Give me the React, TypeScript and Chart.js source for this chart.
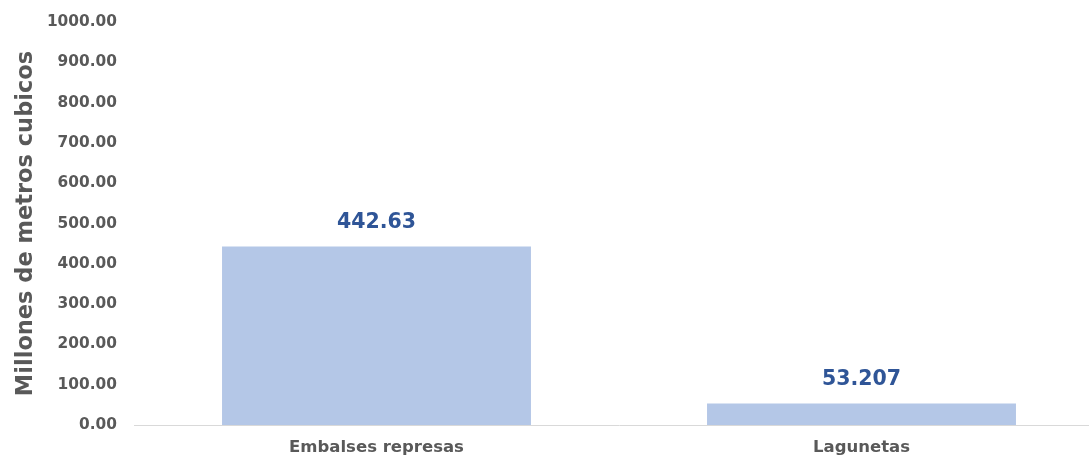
import React, { useEffect, useRef } from "react";
import { Chart, registerables } from "chart.js";

Chart.register(...registerables);

const categories = ["Embalses represas", "Lagunetas"];
const values = [442.63, 53.207];
const valueLabels = ["442.63", "53.207"];
const yTicks = [0, 100, 200, 300, 400, 500, 600, 700, 800, 900, 1000];

const FONT = "'DejaVu Sans', sans-serif";

const valueLabelPlugin = {
  id: "valueLabels",
  afterDatasetsDraw(chart: any) {
    const ctx = chart.ctx;
    const meta = chart.getDatasetMeta(0);
    ctx.save();
    ctx.font = `bold 20.5px ${FONT}`;
    ctx.fillStyle = "#2F5597";
    ctx.textAlign = "center";
    ctx.textBaseline = "middle";
    meta.data.forEach((bar: any, i: number) => {
      ctx.fillText(valueLabels[i], bar.x, bar.y - 24);
    });
    ctx.restore();
  },
};

export default function App() {
  const ref = useRef<HTMLCanvasElement>(null);
  useEffect(() => {
    document.body.style.margin = "0";
    const chart = new Chart(ref.current!, {
      type: "bar",
      data: {
        labels: categories,
        datasets: [
          {
            data: values,
            backgroundColor: "#B4C7E7",
            categoryPercentage: 1,
            barPercentage: 0.637,
          },
        ],
      },
      options: {
        animation: false,
        responsive: false,
        layout: { padding: { top: 22, bottom: 8, left: 0, right: 0 } },
        plugins: { legend: { display: false }, tooltip: { enabled: false } },
        scales: {
          x: {
            grid: { display: false, drawTicks: false },
            border: { display: true, color: "#D9D9D9", width: 1 },
            ticks: {
              color: "#595959",
              font: { family: FONT, size: 16.5, weight: "bold" },
              padding: 13,
            },
            afterFit(scale: any) {
              scale.height = 32;
              scale.paddingLeft = 0;
              scale.paddingRight = 0;
            },
          },
          y: {
            min: 0,
            max: 1000,
            afterBuildTicks(scale: any) {
              scale.ticks = yTicks.map((v) => ({ value: v }));
            },
            grid: { display: false, drawTicks: false },
            border: { display: false },
            ticks: {
              color: "#595959",
              font: { family: FONT, size: 15.4, weight: "bold" },
              padding: 17,
              callback: (v: any) => Number(v).toFixed(2),
            },
            title: {
              display: true,
              text: "Millones de metros cubicos",
              color: "#595959",
              font: { family: FONT, size: 22.5, weight: "bold" },
              padding: { top: 13, bottom: 0 },
            },
            afterFit(scale: any) {
              scale.width = 134;
              scale.paddingTop = 0;
              scale.paddingBottom = 0;
            },
          },
        },
      },
      plugins: [valueLabelPlugin],
    });
    return () => chart.destroy();
  }, []);
  return (
    <div style={{ width: 1089, height: 457, overflow: "hidden", position: "relative" }}>
      <canvas ref={ref} width={1104} height={465} style={{ width: 1104, height: 465, display: "block" }} />
    </div>
  );
}
